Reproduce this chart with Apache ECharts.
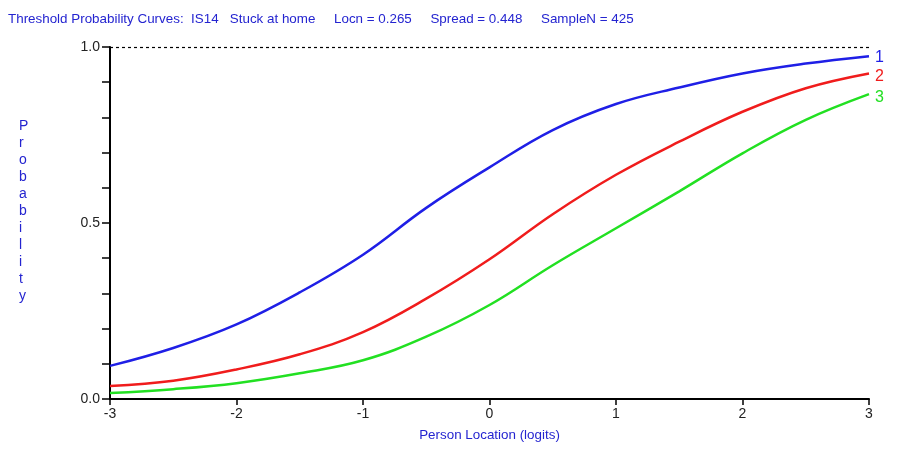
<!DOCTYPE html>
<html><head><meta charset="utf-8">
<script src="https://cdn.jsdelivr.net/npm/echarts@6/dist/echarts.min.js"></script>
<style>html,body{margin:0;padding:0;background:#fff}#c{width:922px;height:450px}</style>
</head><body><div id="c"></div>
<script>
const xValues = [-3, -2.5, -2, -1.5, -1, -0.5, 0, 0.5, 1, 1.5, 2, 2.5, 3];
const threshold1 = [0.094, 0.145, 0.212, 0.303, 0.41, 0.543, 0.658, 0.764, 0.838, 0.885, 0.925, 0.953, 0.974];
const threshold2 = [0.037, 0.052, 0.084, 0.127, 0.19, 0.285, 0.397, 0.525, 0.637, 0.731, 0.816, 0.883, 0.925];
const threshold3 = [0.017, 0.028, 0.045, 0.073, 0.11, 0.177, 0.267, 0.38, 0.485, 0.59, 0.698, 0.793, 0.866];
const seriesNames = ['1', '2', '3'];
const xTicks = [-3, -2, -1, 0, 1, 2, 3];
const yLabelled = [0, 0.5, 1];
const titleText = 'Threshold Probability Curves:  IS14   Stuck at home     Locn = 0.265     Spread = 0.448     SampleN = 425';

const FONT = '"Liberation Sans", Arial, sans-serif';
const colors = ['#1f1fe6', '#f01c1c', '#22e022'];
const pair = arr => xValues.map((x, i) => [x, arr[i]]);
const allData = [threshold1, threshold2, threshold3];

const chart = echarts.init(document.getElementById('c'));
chart.setOption({
  animation: false,
  title: {
    text: titleText, left: 3, top: 8,
    textStyle: { fontFamily: FONT, fontSize: 13.4, fontWeight: 'normal', color: '#2424d0' }
  },
  grid: { left: 110, right: 53, top: 47, bottom: 51, containLabel: false },
  xAxis: {
    type: 'value', min: -3, max: 3, interval: 1,
    name: 'Person Location (logits)', nameLocation: 'middle', nameGap: 30,
    nameTextStyle: { fontFamily: FONT, fontSize: 13.4, color: '#2424d0' },
    axisLine: { show: true, onZero: false, lineStyle: { color: '#000', width: 2 } },
    axisTick: { show: true, length: 6, lineStyle: { color: '#000', width: 1.5 } },
    axisLabel: { fontFamily: FONT, fontSize: 14, color: '#222', margin: 8,
      formatter: v => xTicks.includes(v) ? String(v) : '' },
    splitLine: { show: false }
  },
  yAxis: {
    type: 'value', min: 0, max: 1, interval: 0.1,
    axisLine: { show: true, onZero: false, lineStyle: { color: '#000', width: 2 } },
    axisTick: { show: true, length: 8, lineStyle: { color: '#000', width: 1.5 } },
    axisLabel: { fontFamily: FONT, fontSize: 14, color: '#222', margin: 10,
      formatter: v => yLabelled.some(t => Math.abs(t - v) < 1e-6) ? v.toFixed(1) : '' },
    splitLine: { show: false }
  },
  graphic: [{
    type: 'text', left: 19, top: 118,
    style: { text: 'Probability'.split('').join('\n'), font: '14px ' + FONT, fill: '#2424d0',
      lineHeight: 17, align: 'center' }
  }],
  series: allData.map((d, i) => ({
    name: seriesNames[i], type: 'line', data: pair(d), smooth: 0.4, symbol: 'none',
    lineStyle: { color: colors[i], width: 2.5 },
    endLabel: { show: true, formatter: '{a}', color: colors[i], fontFamily: FONT, fontSize: 16, distance: 6,
      offset: [0, i === 0 ? 1 : 3] },
    markLine: i === 0 ? {
      silent: true, symbol: 'none', label: { show: false },
      lineStyle: { color: '#000', type: [3, 3], width: 1.2 },
      data: [{ yAxis: 1 }]
    } : undefined
  }))
});
</script></body></html>
